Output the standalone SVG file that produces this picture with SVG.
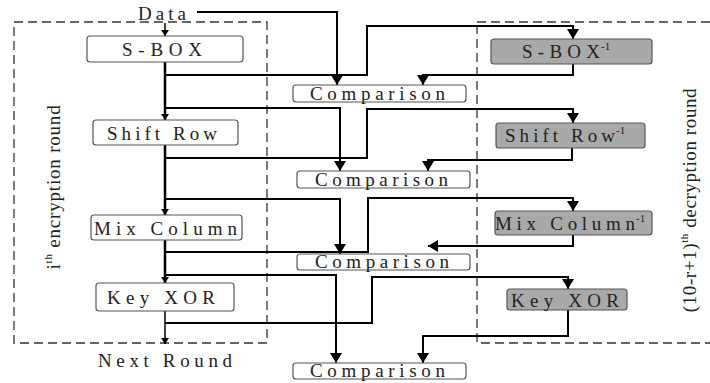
<svg xmlns="http://www.w3.org/2000/svg" width="710" height="383" viewBox="0 0 710 383">
<style>
.t{font-family:"Liberation Serif","Times New Roman",serif;font-size:19px;fill:#222;}
.sup{font-family:"Liberation Serif","Times New Roman",serif;font-size:11px;fill:#222;}
.rt{font-family:"Liberation Serif","Times New Roman",serif;font-size:19px;fill:#222;}
.box{fill:#fff;stroke:#555;stroke-width:1.2;}
.gbox{fill:#a9a9a9;stroke:#555;stroke-width:1.2;}
.region{fill:none;stroke:#333;stroke-width:1.3;stroke-dasharray:9 5;}
.c{fill:none;stroke:#000;stroke-width:2;}
.trunk{fill:none;stroke:#000;stroke-width:2.5;}
.thin{fill:none;stroke:#000;stroke-width:1.5;}
</style>
<defs>
<marker id="ab" viewBox="0 0 10 12" refX="10" refY="6" markerWidth="10" markerHeight="12" markerUnits="userSpaceOnUse" orient="auto"><path d="M0,0 L10,6 L0,12 z" fill="#000"/></marker>
<marker id="as" viewBox="0 0 6 8" refX="6" refY="4" markerWidth="6" markerHeight="8" markerUnits="userSpaceOnUse" orient="auto"><path d="M0,0 L6,4 L0,8 z" fill="#000"/></marker>
</defs>
<rect width="710" height="383" fill="#fff"/>
<g id="regions">
<rect id="enc-round" class="region" x="14" y="22" width="253" height="321"/>
<rect id="dec-round" class="region" x="477" y="22" width="245" height="321"/>
<text class="rt" transform="translate(60,187) rotate(-90)" text-anchor="middle" letter-spacing="0.8">i<tspan font-size="11" dy="-8">th</tspan><tspan dy="8"> encryption  round</tspan></text>
<text class="rt" transform="translate(696,200) rotate(-90)" text-anchor="middle" letter-spacing="0.6">(10-r+1)<tspan font-size="11" dy="-8">th</tspan><tspan dy="8"> decryption  round</tspan></text>
</g>
<g id="connectors">
<path class="thin" d="M165,23 V36" marker-end="url(#as)"/>
<path class="c" d="M197,12 H337 V85" marker-end="url(#ab)"/>
<path class="trunk" d="M165,62 V120" marker-end="url(#as)"/>
<path class="c" d="M165,75 H367 V26 H573 V39" marker-end="url(#ab)"/>
<path class="c" d="M573,64 V75 H423 V85" marker-end="url(#ab)"/>
<path class="c" d="M165,108 H340 V171" marker-end="url(#ab)"/>
<path class="trunk" d="M165,145 V215" marker-end="url(#as)"/>
<path class="c" d="M165,158 H367 V109 H573 V123" marker-end="url(#ab)"/>
<path class="c" d="M572,148 V160 H428 V171" marker-end="url(#ab)"/>
<path class="c" d="M165,199 H340 V254" marker-end="url(#ab)"/>
<path class="trunk" d="M165,240 V283" marker-end="url(#as)"/>
<path class="c" d="M165,252 H368 V198 H573 V211" marker-end="url(#ab)"/>
<path class="c" d="M573,235 V246 H428" marker-end="url(#ab)"/>
<path class="c" d="M165,275 H336 V363" marker-end="url(#ab)"/>
<path class="c" d="M165,323 H372 V277 H568 V289" marker-end="url(#ab)"/>
<path class="c" d="M568,310 V336 H423 V363" marker-end="url(#ab)"/>
<path class="thin" d="M165,311 V344" marker-end="url(#as)"/>
</g>
<g id="data"><text class="t" x="138" y="20" textLength="48" lengthAdjust="spacing">Data</text></g>
<g id="sbox"><rect class="box" x="87" y="36" width="156" height="26" rx="3"/><text class="t" x="122" y="56" textLength="80" lengthAdjust="spacing">S-BOX</text></g>
<g id="shiftrow"><rect class="box" x="93" y="120" width="145" height="25" rx="3"/><text class="t" x="107" y="140" textLength="110" lengthAdjust="spacing">Shift Row</text></g>
<g id="mixcolumn"><rect class="box" x="91" y="215" width="151" height="25" rx="3"/><text class="t" x="94" y="235" textLength="143" lengthAdjust="spacing">Mix Column</text></g>
<g id="keyxor"><rect class="box" x="96" y="283" width="138" height="28" rx="3"/><text class="t" x="107" y="304" textLength="108" lengthAdjust="spacing">Key XOR</text></g>
<g id="nextround"><text class="t" x="98" y="367" textLength="134" lengthAdjust="spacing">Next Round</text></g>
<g id="cmp1"><rect class="box" x="293" y="85" width="173" height="17" rx="3"/><text class="t" x="310" y="100" textLength="135" lengthAdjust="spacing">Comparison</text></g>
<g id="cmp2"><rect class="box" x="297" y="171" width="173" height="17" rx="3"/><text class="t" x="315" y="186" textLength="133" lengthAdjust="spacing">Comparison</text></g>
<g id="cmp3"><rect class="box" x="297" y="254" width="173" height="16" rx="3"/><text class="t" x="315" y="268" textLength="134" lengthAdjust="spacing">Comparison</text></g>
<g id="cmp4"><rect class="box" x="293" y="363" width="173" height="16" rx="3"/><text class="t" x="310" y="377" textLength="135" lengthAdjust="spacing">Comparison</text></g>
<g id="sbox-inv"><rect class="gbox" x="491" y="39" width="161" height="25" rx="3"/><text class="t" x="522" y="58" textLength="78" lengthAdjust="spacing">S-BOX</text><text class="sup" x="601" y="50">-1</text></g>
<g id="shiftrow-inv"><rect class="gbox" x="496" y="123" width="149" height="25" rx="3"/><text class="t" x="505" y="142" textLength="110" lengthAdjust="spacing">Shift Row</text><text class="sup" x="616" y="134">-1</text></g>
<g id="mixcolumn-inv"><rect class="gbox" x="495" y="211" width="157" height="24" rx="3"/><text class="t" x="495" y="230" textLength="140" lengthAdjust="spacing">Mix Column</text><text class="sup" x="636" y="222">-1</text></g>
<g id="keyxor-inv"><rect class="gbox" x="507" y="289" width="120" height="21" rx="3"/><text class="t" x="511" y="307" textLength="108" lengthAdjust="spacing">Key XOR</text></g>
</svg>
